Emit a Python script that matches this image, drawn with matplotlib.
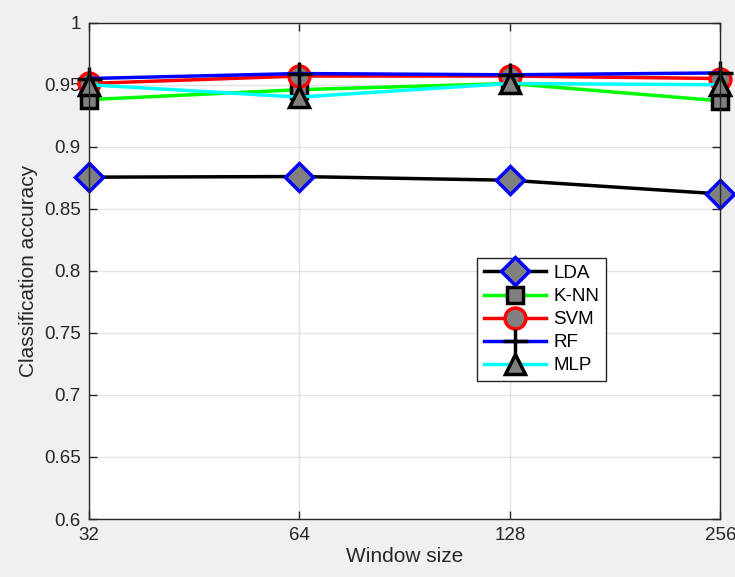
import numpy as np
import matplotlib
matplotlib.use('Agg')
import matplotlib.pyplot as plt

# ========== data ==========
window = [32, 64, 128, 256]
lda = [0.8755, 0.876, 0.873, 0.862]
knn = [0.938, 0.946, 0.951, 0.937]
svm = [0.951, 0.957, 0.957, 0.955]
rf = [0.955, 0.959, 0.958, 0.9595]
mlp = [0.950, 0.940, 0.951, 0.950]
yticks = [0.6, 0.65, 0.7, 0.75, 0.8, 0.85, 0.9, 0.95, 1]
ytick_labels = ['0.6', '0.65', '0.7', '0.75', '0.8', '0.85', '0.9', '0.95', '1']

plt.rcParams['font.family'] = ['Liberation Sans', 'DejaVu Sans']

fig = plt.figure(figsize=(7.35, 5.77), dpi=100, facecolor='#f0f0f0')
ax = fig.add_axes([0.121, 0.1005, 0.859, 0.8602])
ax.set_facecolor('white')

gray = '#808080'
ax.plot(window, lda, color='black', lw=2.5, marker='D', ms=14, mfc=gray, mec='blue', mew=2.5, label='LDA', clip_on=False)
ax.plot(window, knn, color='#00ff00', lw=2.5, marker='s', ms=11, mfc=gray, mec='black', mew=2.5, label='K-NN', clip_on=False)
ax.plot(window, svm, color='red', lw=2.5, marker='o', ms=15, mfc=gray, mec='red', mew=2.5, label='SVM', clip_on=False)
ax.plot(window, rf, color='blue', lw=2.5, marker='+', ms=18, mec='black', mew=2.5, label='RF', clip_on=False)
ax.plot(window, mlp, color='cyan', lw=2.5, marker='^', ms=15, mfc=gray, mec='black', mew=2.5, label='MLP', clip_on=False)

ax.set_xscale('log', base=2)
ax.set_xlim(32, 256)
ax.set_xticks(window)
ax.set_xticklabels([str(w) for w in window])
ax.minorticks_off()
ax.set_ylim(0.6, 1)
ax.set_yticks(yticks)
ax.set_yticklabels(ytick_labels)

ax.grid(True, color='#e3e3e3', lw=1)
ax.set_axisbelow(True)
ax.tick_params(direction='in', top=True, right=True, labelsize=13.5, length=6, width=1, colors='#262626', pad=6)
for s in ax.spines.values():
    s.set_color('#262626')
    s.set_linewidth(1)

ax.set_xlabel('Window size', fontsize=15, color='#262626', labelpad=2)
ax.set_ylabel('Classification accuracy', fontsize=15, color='#262626', labelpad=4)

leg = ax.legend(loc='lower left', bbox_to_anchor=(0.615, 0.278), fontsize=13.5, fancybox=False,
                edgecolor='#262626', framealpha=1, handlelength=3.3, borderpad=0.35,
                labelspacing=0.32, handletextpad=0.4, borderaxespad=0)
leg.get_frame().set_linewidth(1)

fig.savefig('out.png', dpi=100, facecolor=fig.get_facecolor())
